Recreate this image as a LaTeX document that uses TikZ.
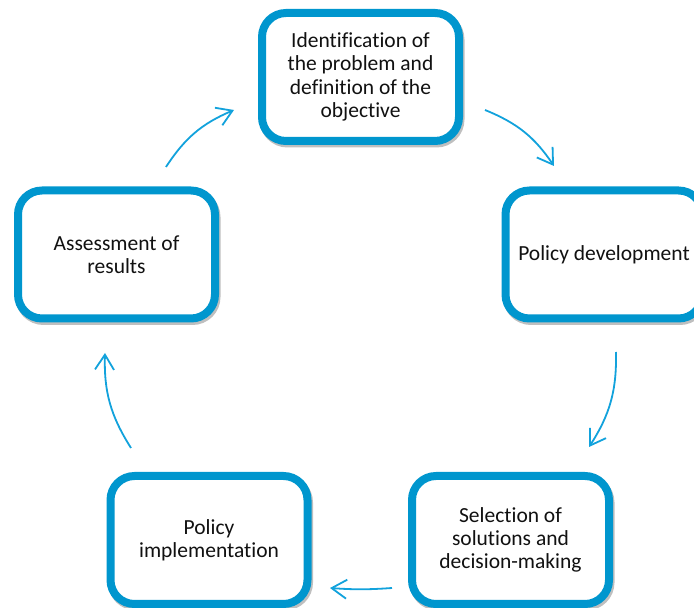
\documentclass[tikz,border=0pt]{standalone}
\usepackage{fontspec}
\setmainfont[Ligatures=NoCommon]{Carlito}
\usetikzlibrary{arrows.meta,shadows}
\definecolor{boxblue}{HTML}{0096CE}
\definecolor{arrowblue}{HTML}{12A2DC}
\definecolor{txt}{HTML}{111111}
\begin{document}
\begin{tikzpicture}[x=1pt,y=1pt,
  stage/.style={draw=boxblue, line width=8pt, rounded corners=24pt, fill=white,
    minimum width=197pt, minimum height=128pt, align=center, inner sep=0pt,
    text=txt, font=\fontsize{21.5}{23.3}\selectfont,
    drop shadow={shadow xshift=1.5pt, shadow yshift=-2.5pt, opacity=0.25, draw=black, line width=8pt, fill=black}},
  flow/.style={draw=arrowblue, line width=1.8pt, -{Straight Barb[length=15pt,width=19pt,line width=1.8pt]}, bend left=17}]
\useasboundingbox (0,0) rectangle (694,608);
\clip (0,0) rectangle (694,608);
\node[stage] (ident) at (360.5,531) {Identification of\\the problem and\\definition of the\\objective};
\node[stage] (dev) at (604,353.5) {Policy development};
\node[stage] (sel) at (510.5,68) {Selection of\\solutions and\\decision-making};
\node[stage] (impl) at (209,68) {Policy\\implementation};
\node[stage] (assess) at (116.5,353.5) {Assessment of\\results};
\coordinate (a1s) at (485,498); \coordinate (a1e) at (554,442);
\coordinate (a2s) at (616,256); \coordinate (a2e) at (589,161);
\coordinate (a3s) at (392,20);  \coordinate (a3e) at (330,20);
\coordinate (a4s) at (131,160); \coordinate (a4e) at (105,255);
\coordinate (a5s) at (166,441); \coordinate (a5e) at (234,498);
\draw[flow] (a1s) to (a1e);
\draw[flow] (a2s) to (a2e);
\draw[flow, bend left=4] (a3s) to (a3e);
\draw[flow] (a4s) to (a4e);
\draw[flow] (a5s) to (a5e);
\end{tikzpicture}
\end{document}
